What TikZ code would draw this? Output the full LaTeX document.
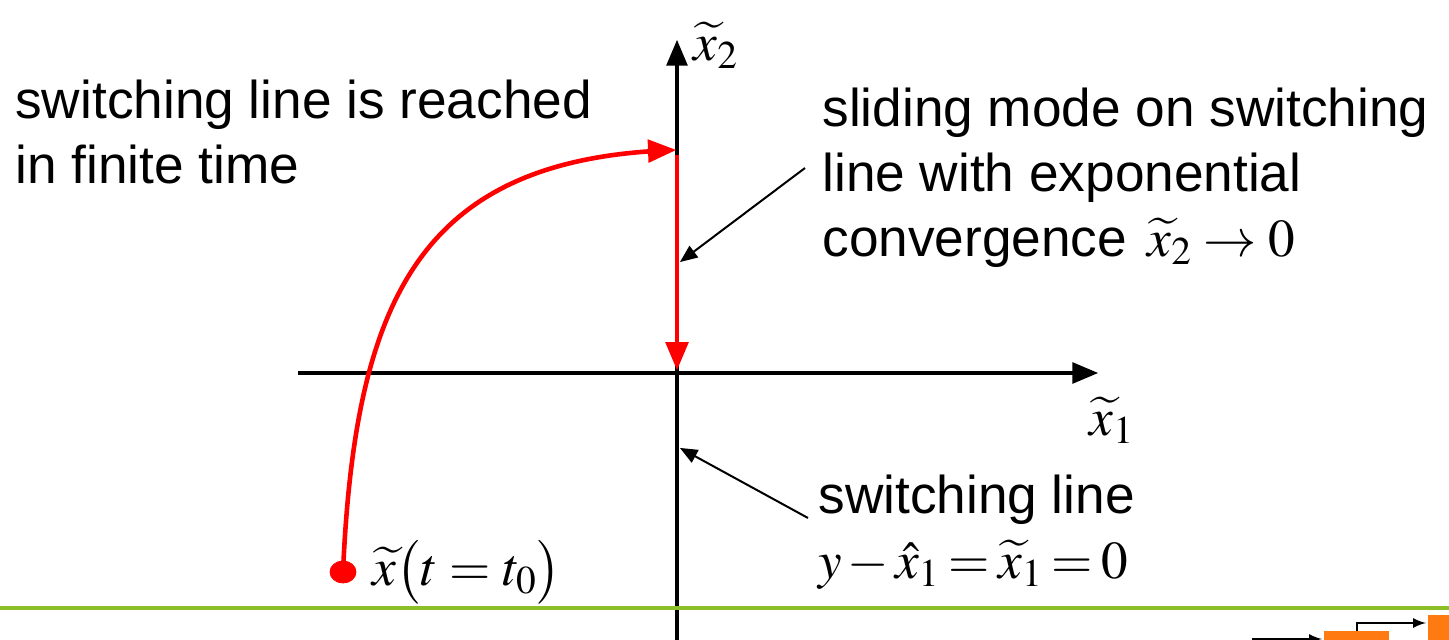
\documentclass[tikz,border=0pt]{standalone}
\usepackage{mathptmx}
\usepackage{fontspec}
\setmainfont{Liberation Sans}
\usetikzlibrary{shapes,arrows,positioning,calc}
\definecolor{slidegreen}{RGB}{140,190,40}
\definecolor{logoorange}{RGB}{255,122,16}

\begin{document}
\begin{tikzpicture}[x=0.5pt, y=-0.5pt,
  axis/.style={line width=2pt, -triangle 45},
  traj/.style={red, line width=2.3pt, -triangle 45},
  pointer/.style={line width=1pt, -triangle 45},
  lbl/.style={inner sep=0pt, font=\fontsize{26.6}{32.5}\selectfont, align=left}]
\useasboundingbox (0,0) rectangle (1449,640);

% axes
\coordinate (o) at (677,373);
\coordinate (xs) at (298,373);
\coordinate (xe) at (1098,373);
\coordinate (ys) at (677,640);
\coordinate (ye) at (677,40);
\draw[axis] (xs) -- (xe);
\draw[axis] (ys) -- (ye);
\node[lbl] (xlab) at (1112,420) {$\widetilde{x}_1$};
\node[lbl] (ylab) at (716,45) {$\widetilde{x}_2$};

% trajectory
\node[draw=red, fill=red, ellipse, minimum width=13pt, minimum height=11pt, inner sep=0pt] (x0) at (343,572) {};
\coordinate (hit) at (676,150);
\coordinate (slide) at (677,155);
\coordinate (end) at (677,370);
\draw[traj] (x0.center) .. controls (355,300) and (420,160) .. (hit);
\draw[traj] (slide) -- (end);
\node[lbl, anchor=west] (x0lab) at (372,572) {$\widetilde{x}\big(t=t_0\big)$};

% texts
\node[lbl, anchor=west] (reach) at (15,132) {switching line is reached\\in finite time};
\node[lbl, anchor=west] (sliding) at (822,178) {sliding mode on switching\\line with exponential\\convergence $\,\widetilde{x}_2\rightarrow 0$};
\node[lbl, anchor=west] (swline) at (818,532) {switching line\\{\thickmuskip=3mu\medmuskip=2mu$y-\hat{x}_1=\widetilde{x}_1=0$}};

% pointers
\coordinate (p1) at (680,262);
\coordinate (p2) at (680,448);
\draw[pointer] (805,168) -- (p1);
\draw[pointer] (808,518) -- (p2);

% slide footer
\draw[slidegreen, line width=2pt] (0,608) -- (1449,608);
\fill[logoorange] (1324,631) rectangle (1389,645);
\fill[logoorange] (1428,615) rectangle (1449,645);
\draw[line width=1.2pt, -latex] (1252,639) -- (1322,639);
\draw[line width=1.2pt, -latex] (1357,631) -- (1357,623) -- (1426,623);
\end{tikzpicture}
\end{document}
